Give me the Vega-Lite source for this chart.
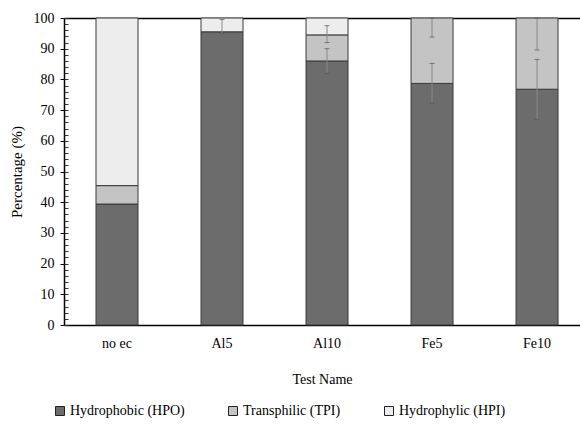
{
  "$schema": "https://vega.github.io/schema/vega-lite/v6.json",
  "width": 516,
  "height": 307,
  "autosize": "none",
  "padding": {"left": 64, "top": 18, "right": 0, "bottom": 102},
  "background": "white",
  "config": {
    "view": {"stroke": null},
    "font": "Liberation Serif",
    "axis": {"labelFont": "Liberation Serif", "titleFont": "Liberation Serif", "labelColor": "black", "titleColor": "black", "titleFontWeight": "normal", "grid": false},
    "legend": {"labelFont": "Liberation Serif"}
  },
  "datasets": {
    "bars": [
      {"test": "no ec", "fraction": "Hydrophobic (HPO)", "ord": 1, "pct": 39.4},
      {"test": "no ec", "fraction": "Transphilic (TPI)", "ord": 2, "pct": 6.0},
      {"test": "no ec", "fraction": "Hydrophylic (HPI)", "ord": 3, "pct": 54.6},
      {"test": "Al5", "fraction": "Hydrophobic (HPO)", "ord": 1, "pct": 95.5},
      {"test": "Al5", "fraction": "Hydrophylic (HPI)", "ord": 3, "pct": 4.5},
      {"test": "Al10", "fraction": "Hydrophobic (HPO)", "ord": 1, "pct": 86.0},
      {"test": "Al10", "fraction": "Transphilic (TPI)", "ord": 2, "pct": 8.5},
      {"test": "Al10", "fraction": "Hydrophylic (HPI)", "ord": 3, "pct": 5.5},
      {"test": "Fe5", "fraction": "Hydrophobic (HPO)", "ord": 1, "pct": 78.7},
      {"test": "Fe5", "fraction": "Transphilic (TPI)", "ord": 2, "pct": 21.3},
      {"test": "Fe10", "fraction": "Hydrophobic (HPO)", "ord": 1, "pct": 76.8},
      {"test": "Fe10", "fraction": "Transphilic (TPI)", "ord": 2, "pct": 23.2}
    ],
    "errs": [
      {"test": "Al5", "lo": 95.0, "hi": 99.5},
      {"test": "Al10", "lo": 82.0, "hi": 90.0},
      {"test": "Al10", "lo": 92.0, "hi": 97.5},
      {"test": "Fe5", "lo": 72.3, "hi": 85.2},
      {"test": "Fe5", "lo": 93.8, "hi": 100},
      {"test": "Fe10", "lo": 67.0, "hi": 86.5},
      {"test": "Fe10", "lo": 89.6, "hi": 100}
    ]
  },
  "layer": [
    {
      "data": {"name": "bars"},
      "mark": {"type": "bar", "stroke": "#3a3a3a", "strokeWidth": 1},
      "encoding": {
        "x": {
          "field": "test", "type": "nominal",
          "sort": ["no ec", "Al5", "Al10", "Fe5", "Fe10"],
          "scale": {"paddingInner": 0.6, "paddingOuter": 0.257, "align": 0.593},
          "axis": {"title": "Test Name", "titleFontSize": 14, "titlePadding": 22, "labelFontSize": 14, "labelPadding": 11, "labelAngle": 0, "ticks": false, "domainColor": "black", "domainWidth": 1.5}
        },
        "y": {
          "field": "pct", "type": "quantitative", "stack": "zero",
          "scale": {"domain": [0, 100], "nice": false},
          "axis": {"title": "Percentage (%)", "titleFontSize": 15, "titlePadding": 9, "labelFontSize": 14, "labelPadding": 6, "values": [0, 10, 20, 30, 40, 50, 60, 70, 80, 90, 100], "tickSize": 4, "tickColor": "black", "domainColor": "black", "domainWidth": 1.5}
        },
        "color": {
          "field": "fraction", "type": "nominal",
          "sort": ["Hydrophobic (HPO)", "Transphilic (TPI)", "Hydrophylic (HPI)"],
          "scale": {"domain": ["Hydrophobic (HPO)", "Transphilic (TPI)", "Hydrophylic (HPI)"], "range": ["#6c6c6c", "#c4c4c4", "#ededed"]},
          "legend": {"title": null, "orient": "none", "legendX": -11, "legendY": 386, "direction": "horizontal", "columns": 3, "gridAlign": "none", "columnPadding": 41, "symbolType": "square", "symbolSize": 81, "symbolStrokeColor": "#222", "symbolStrokeWidth": 1, "labelFontSize": 14, "labelOffset": 3, "labelLimit": 200}
        },
        "order": {"field": "ord", "type": "quantitative"}
      }
    },
    {
      "data": {"name": "errs"},
      "mark": {"type": "rule", "color": "#8a8a8a", "strokeWidth": 1},
      "encoding": {
        "x": {"field": "test", "type": "nominal", "sort": ["no ec", "Al5", "Al10", "Fe5", "Fe10"], "axis": {"orient": "top", "title": null, "labels": false, "ticks": false, "domainColor": "black", "domainWidth": 1.5}},
        "y": {"field": "lo", "type": "quantitative", "axis": {"orient": "left", "title": null, "labels": false, "domain": false, "values": [0,2,4,6,8,10,12,14,16,18,20,22,24,26,28,30,32,34,36,38,40,42,44,46,48,50,52,54,56,58,60,62,64,66,68,70,72,74,76,78,80,82,84,86,88,90,92,94,96,98,100], "tickSize": -4, "tickColor": "#333"}},
        "y2": {"field": "hi"}
      }
    },
    {
      "data": {"name": "errs"},
      "transform": [{"fold": ["lo", "hi"], "as": ["end", "val"]}],
      "mark": {"type": "tick", "color": "#555", "thickness": 1, "size": 5},
      "encoding": {
        "x": {"field": "test", "type": "nominal", "sort": ["no ec", "Al5", "Al10", "Fe5", "Fe10"], "axis": null},
        "y": {"field": "val", "type": "quantitative", "axis": null}
      }
    }
  ],
  "resolve": {"axis": {"x": "independent", "y": "independent"}}
}
